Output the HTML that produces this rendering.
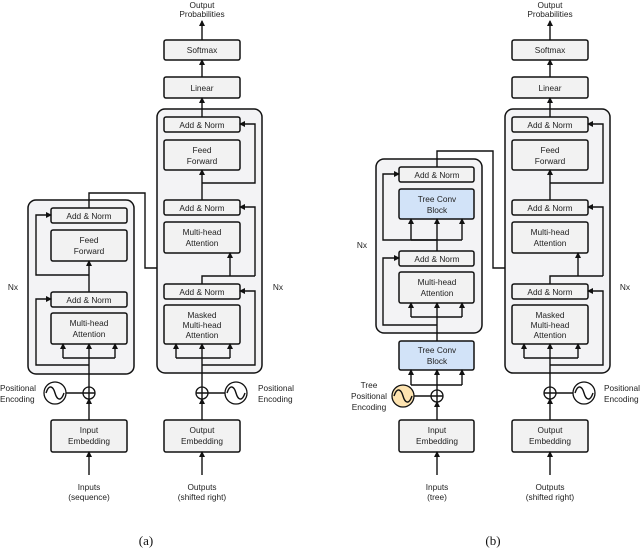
<!DOCTYPE html>
<html><head><meta charset="utf-8"><style>
html,body{margin:0;padding:0;background:#fff}
svg{display:block}
text{font-family:"Liberation Sans",sans-serif;font-size:8.3px;fill:#222;text-anchor:middle}
.b{fill:#f2f2f2;stroke:#111;stroke-width:1.5}
.bl{fill:#d2e3f8;stroke:#111;stroke-width:1.5}
.o{fill:#f3f3f5;stroke:#111;stroke-width:1.5}
.l{fill:none;stroke:#111;stroke-width:1.4}
.a{fill:none;stroke:#111;stroke-width:1.4;marker-end:url(#ar)}
.st{text-anchor:start}
.cap{font-family:"Liberation Serif",serif;font-size:13px;fill:#111}
</style></head><body>
<svg width="640" height="549" viewBox="0 0 640 549" xmlns="http://www.w3.org/2000/svg">
<defs><marker id="ar" markerWidth="6" markerHeight="6" refX="5" refY="3" orient="auto" markerUnits="userSpaceOnUse"><path d="M0,0 L6,3 L0,6 z" fill="#111"/></marker></defs>

<!-- ===== (a) encoder ===== -->
<rect class="o" x="28" y="200" width="106" height="174" rx="8"/>
<rect class="b" x="51" y="208" width="76" height="15" rx="2"/><text x="89" y="219">Add &amp; Norm</text>
<rect class="b" x="51" y="230" width="76" height="31" rx="2"/><text x="89" y="243">Feed</text><text x="89" y="254">Forward</text>
<rect class="b" x="51" y="292" width="76" height="15" rx="2"/><text x="89" y="303">Add &amp; Norm</text>
<rect class="b" x="51" y="313" width="76" height="31" rx="2"/><text x="89" y="326">Multi-head</text><text x="89" y="337">Attention</text>
<path class="a" d="M89,387 V344"/>
<path class="l" d="M63,358 H115"/>
<path class="a" d="M63,358 V344"/><path class="a" d="M115,358 V344"/>
<path class="a" d="M89,365 H36 V299 H51"/>
<path class="a" d="M89,292 V261"/>
<path class="a" d="M89,275 H36 V215 H51"/>
<path class="l" d="M89,208 V193 H145 V268 H202"/>
<path class="a" d="M176,268 V253"/><path class="a" d="M202,268 V253"/>
<text x="13" y="290">Nx</text>
<rect class="b" x="51" y="420" width="76" height="32" rx="2"/><text x="89" y="433">Input</text><text x="89" y="444">Embedding</text>
<path class="a" d="M89,475 V452"/>
<path class="a" d="M89,420 V399"/>
<circle cx="89" cy="393" r="6" fill="#fff" stroke="#111" stroke-width="1.3"/><path class="l" d="M83,393 H95 M89,387 V399"/>
<path class="l" d="M66,393 H83"/>
<circle cx="55" cy="393" r="11" fill="#fff" stroke="#111" stroke-width="1.3"/>
<path class="l" d="M46,393 C49,384 53,386 55,393 C57,400 61,402 64,393"/>
<text class="st" x="0" y="391">Positional</text><text class="st" x="0" y="402">Encoding</text>
<text x="89" y="490">Inputs</text><text x="89" y="500">(sequence)</text>

<!-- ===== decoder (a) ===== -->
<g id="dec">
<rect class="o" x="157" y="109" width="105" height="264" rx="8"/>
<rect class="b" x="164" y="40" width="76" height="20" rx="2"/><text x="202" y="53">Softmax</text>
<rect class="b" x="164" y="77" width="76" height="21" rx="2"/><text x="202" y="91">Linear</text>
<rect class="b" x="164" y="117" width="76" height="15" rx="2"/><text x="202" y="128">Add &amp; Norm</text>
<rect class="b" x="164" y="140" width="76" height="30" rx="2"/><text x="202" y="153">Feed</text><text x="202" y="164">Forward</text>
<rect class="b" x="164" y="200" width="76" height="15" rx="2"/><text x="202" y="211">Add &amp; Norm</text>
<rect class="b" x="164" y="222" width="76" height="31" rx="2"/><text x="202" y="235">Multi-head</text><text x="202" y="246">Attention</text>
<rect class="b" x="164" y="284" width="76" height="15" rx="2"/><text x="202" y="295">Add &amp; Norm</text>
<rect class="b" x="164" y="305" width="76" height="39" rx="2"/><text x="202" y="318">Masked</text><text x="202" y="328">Multi-head</text><text x="202" y="338">Attention</text>
<path class="a" d="M202,387 V344"/>
<path class="l" d="M176,358 H230"/>
<path class="a" d="M176,358 V344"/><path class="a" d="M230,358 V344"/>
<path class="a" d="M202,365 H255 V291 H240"/>
<path class="l" d="M202,284 V276 H255"/>
<path class="a" d="M255,276 V207 H240"/>
<path class="a" d="M230,276 V253"/>
<path class="a" d="M202,200 V170"/>
<path class="a" d="M202,183 H255 V124 H240"/>
<path class="a" d="M202,117 V98"/><path class="a" d="M202,77 V60"/><path class="a" d="M202,40 V21"/>
<text x="202" y="8">Output</text><text x="202" y="17">Probabilities</text>
<text x="278" y="290">Nx</text>
<rect class="b" x="164" y="420" width="76" height="32" rx="2"/><text x="202" y="433">Output</text><text x="202" y="444">Embedding</text>
<path class="a" d="M202,475 V452"/>
<path class="a" d="M202,420 V399"/>
<circle cx="202" cy="393" r="6" fill="#fff" stroke="#111" stroke-width="1.3"/><path class="l" d="M196,393 H208 M202,387 V399"/>
<path class="l" d="M208,393 H225"/>
<circle cx="236" cy="393" r="11" fill="#fff" stroke="#111" stroke-width="1.3"/>
<path class="l" d="M227,393 C230,384 234,386 236,393 C238,400 242,402 245,393"/>
<text class="st" x="258" y="391">Positional</text><text class="st" x="258" y="402">Encoding</text>
<text x="202" y="490">Outputs</text><text x="202" y="500">(shifted right)</text>
</g>
<text class="cap" x="146" y="545">(a)</text>

<!-- ===== (b) encoder ===== -->
<rect class="o" x="376" y="159" width="106" height="174" rx="8"/>
<rect class="b" x="399" y="167" width="75" height="15" rx="2"/><text x="437" y="178">Add &amp; Norm</text>
<rect class="bl" x="399" y="189" width="75" height="30" rx="2"/><text x="437" y="202">Tree Conv</text><text x="437" y="213">Block</text>
<rect class="b" x="399" y="251" width="75" height="15" rx="2"/><text x="437" y="262">Add &amp; Norm</text>
<rect class="b" x="399" y="272" width="75" height="31" rx="2"/><text x="437" y="285">Multi-head</text><text x="437" y="296">Attention</text>
<path class="a" d="M437,341 V303"/>
<path class="l" d="M411,317 H462"/>
<path class="a" d="M411,317 V303"/><path class="a" d="M462,317 V303"/>
<path class="a" d="M437,325 H383 V258 H399"/>
<path class="a" d="M437,251 V219"/>
<path class="l" d="M411,240 H462"/>
<path class="a" d="M411,240 V219"/><path class="a" d="M462,240 V219"/>
<path class="a" d="M437,240 H383 V174 H399"/>
<path class="l" d="M437,167 V151 H493 V268 H550"/>
<path class="a" d="M524,268 V253"/><path class="a" d="M550,268 V253"/>
<text x="362" y="248">Nx</text>
<rect class="bl" x="399" y="341" width="75" height="29" rx="2"/><text x="437" y="353">Tree Conv</text><text x="437" y="364">Block</text>
<path class="a" d="M437,390 V370"/>
<path class="l" d="M411,385 H462"/>
<path class="a" d="M411,385 V370"/><path class="a" d="M462,385 V370"/>
<rect class="b" x="399" y="420" width="75" height="32" rx="2"/><text x="437" y="433">Input</text><text x="437" y="444">Embedding</text>
<path class="a" d="M437,475 V452"/>
<path class="a" d="M437,420 V402"/>
<circle cx="437" cy="396" r="6" fill="#fff" stroke="#111" stroke-width="1.3"/><path class="l" d="M431,396 H443 M437,390 V402"/>
<path class="l" d="M414,396 H431"/>
<circle cx="403" cy="396" r="11" fill="#fde3b0" stroke="#111" stroke-width="1.3"/>
<path class="l" d="M394,396 C397,387 401,389 403,396 C405,403 409,405 412,396"/>
<text x="369" y="388">Tree</text><text x="369" y="399">Positional</text><text x="369" y="410">Encoding</text>
<text x="437" y="490">Inputs</text><text x="437" y="500">(tree)</text>

<g transform="translate(348,0)">
<rect class="o" x="157" y="109" width="105" height="264" rx="8"/>
<rect class="b" x="164" y="40" width="76" height="20" rx="2"/><text x="202" y="53">Softmax</text>
<rect class="b" x="164" y="77" width="76" height="21" rx="2"/><text x="202" y="91">Linear</text>
<rect class="b" x="164" y="117" width="76" height="15" rx="2"/><text x="202" y="128">Add &amp; Norm</text>
<rect class="b" x="164" y="140" width="76" height="30" rx="2"/><text x="202" y="153">Feed</text><text x="202" y="164">Forward</text>
<rect class="b" x="164" y="200" width="76" height="15" rx="2"/><text x="202" y="211">Add &amp; Norm</text>
<rect class="b" x="164" y="222" width="76" height="31" rx="2"/><text x="202" y="235">Multi-head</text><text x="202" y="246">Attention</text>
<rect class="b" x="164" y="284" width="76" height="15" rx="2"/><text x="202" y="295">Add &amp; Norm</text>
<rect class="b" x="164" y="305" width="76" height="39" rx="2"/><text x="202" y="318">Masked</text><text x="202" y="328">Multi-head</text><text x="202" y="338">Attention</text>
<path class="a" d="M202,387 V344"/>
<path class="l" d="M176,358 H230"/>
<path class="a" d="M176,358 V344"/><path class="a" d="M230,358 V344"/>
<path class="a" d="M202,365 H255 V291 H240"/>
<path class="l" d="M202,284 V276 H255"/>
<path class="a" d="M255,276 V207 H240"/>
<path class="a" d="M230,276 V253"/>
<path class="a" d="M202,200 V170"/>
<path class="a" d="M202,183 H255 V124 H240"/>
<path class="a" d="M202,117 V98"/><path class="a" d="M202,77 V60"/><path class="a" d="M202,40 V21"/>
<text x="202" y="8">Output</text><text x="202" y="17">Probabilities</text>
<text x="277" y="290">Nx</text>
<rect class="b" x="164" y="420" width="76" height="32" rx="2"/><text x="202" y="433">Output</text><text x="202" y="444">Embedding</text>
<path class="a" d="M202,475 V452"/>
<path class="a" d="M202,420 V399"/>
<circle cx="202" cy="393" r="6" fill="#fff" stroke="#111" stroke-width="1.3"/><path class="l" d="M196,393 H208 M202,387 V399"/>
<path class="l" d="M208,393 H225"/>
<circle cx="236" cy="393" r="11" fill="#fff" stroke="#111" stroke-width="1.3"/>
<path class="l" d="M227,393 C230,384 234,386 236,393 C238,400 242,402 245,393"/>
<text class="st" x="256" y="391">Positional</text><text class="st" x="256" y="402">Encoding</text>
<text x="202" y="490">Outputs</text><text x="202" y="500">(shifted right)</text>
</g>
<text class="cap" x="493" y="545">(b)</text>
</svg>
</body></html>
